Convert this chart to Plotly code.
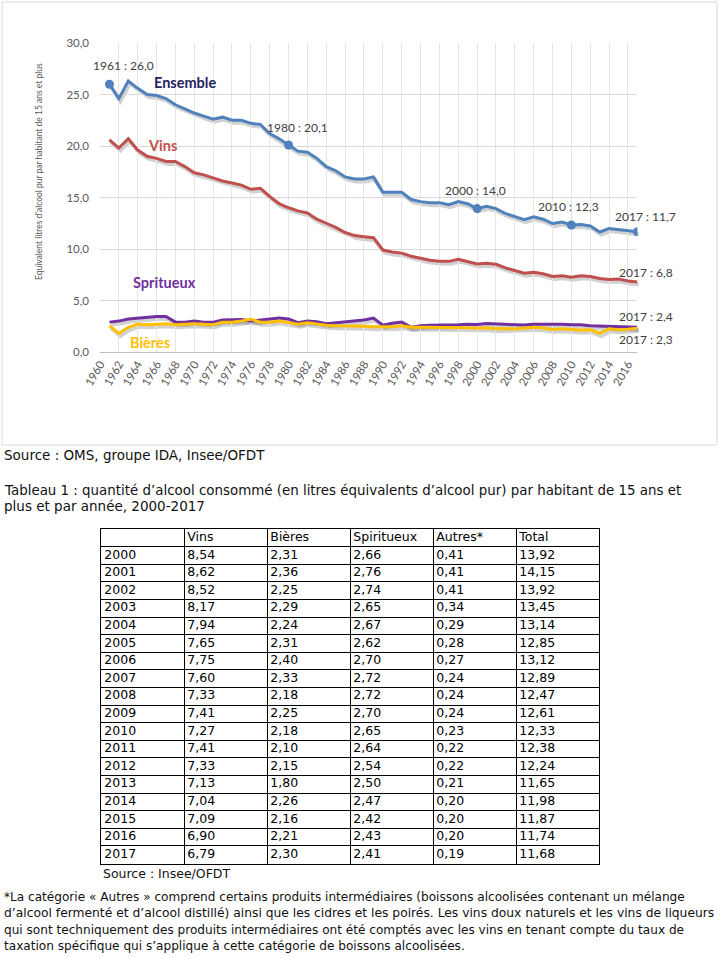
import plotly.graph_objects as go

W, H = 720, 958

# ---------------- data ----------------
years = list(range(1961, 2018))
table_years = list(range(2000, 2018))

# Tableau 1 (2000-2017)
tab_vins = [8.54, 8.62, 8.52, 8.17, 7.94, 7.65, 7.75, 7.60, 7.33, 7.41, 7.27, 7.41, 7.33, 7.13, 7.04, 7.09, 6.90, 6.79]
tab_bieres = [2.31, 2.36, 2.25, 2.29, 2.24, 2.31, 2.40, 2.33, 2.18, 2.25, 2.18, 2.10, 2.15, 1.80, 2.26, 2.16, 2.21, 2.30]
tab_spiritueux = [2.66, 2.76, 2.74, 2.65, 2.67, 2.62, 2.70, 2.72, 2.72, 2.70, 2.65, 2.64, 2.54, 2.50, 2.47, 2.42, 2.43, 2.41]
tab_autres = [0.41, 0.41, 0.41, 0.34, 0.29, 0.28, 0.27, 0.24, 0.24, 0.24, 0.23, 0.22, 0.22, 0.21, 0.20, 0.20, 0.20, 0.19]
tab_total = [13.92, 14.15, 13.92, 13.45, 13.14, 12.85, 13.12, 12.89, 12.47, 12.61, 12.33, 12.38, 12.24, 11.65, 11.98, 11.87, 11.74, 11.68]
tab_header = ["", "Vins", "Bières", "Spiritueux", "Autres*", "Total"]

# Chart series 1961-1999
ens_1961_1999 = [26.0, 24.6, 26.3, 25.6, 25.0, 24.9, 24.6, 24.0, 23.6, 23.2,
                 22.9, 22.6, 22.8, 22.5, 22.5, 22.2, 22.1, 21.2, 20.7, 20.1,
                 19.5, 19.4, 18.8, 18.0, 17.6, 17.0, 16.8, 16.8, 17.0, 15.5,
                 15.5, 15.5, 14.8, 14.6, 14.5, 14.5, 14.3, 14.6, 14.4]
vins_1961_1999 = [20.6, 19.8, 20.7, 19.6, 19.0, 18.8, 18.5, 18.5, 18.0, 17.4,
                  17.2, 16.9, 16.6, 16.4, 16.2, 15.8, 15.9, 15.1, 14.4, 14.0,
                  13.7, 13.5, 12.9, 12.5, 12.1, 11.6, 11.3, 11.2, 11.1, 9.9,
                  9.7, 9.6, 9.3, 9.1, 8.9, 8.8, 8.8, 9.0, 8.8]
spi_1961_1999 = [2.9, 3.0, 3.2, 3.3, 3.4, 3.45, 3.45, 2.9, 2.9, 3.0,
                 2.9, 2.9, 3.1, 3.1, 3.15, 3.0, 3.1, 3.2, 3.3, 3.2,
                 2.85, 3.0, 2.95, 2.75, 2.85, 2.9, 3.0, 3.1, 3.3, 2.6,
                 2.8, 2.9, 2.4, 2.55, 2.6, 2.6, 2.6, 2.65, 2.7]
bie_1961_1999 = [2.55, 1.8, 2.4, 2.7, 2.65, 2.7, 2.75, 2.65, 2.7, 2.75,
                 2.7, 2.65, 2.9, 2.9, 3.0, 3.2, 2.9, 2.9, 3.0, 2.85,
                 2.7, 2.85, 2.7, 2.6, 2.55, 2.55, 2.5, 2.5, 2.45, 2.45,
                 2.45, 2.55, 2.4, 2.4, 2.4, 2.4, 2.4, 2.4, 2.35]

ensemble = ens_1961_1999 + tab_total
vins = vins_1961_1999 + tab_vins
spiritueux = spi_1961_1999 + tab_spiritueux
bieres = bie_1961_1999 + tab_bieres

marked_years = [1961, 1980, 2000, 2010, 2017]
marked_labels = ["1961 : 26,0", "1980 : 20,1", "2000 : 14,0", "2010 : 12,3", "2017 : 11,7"]
end_labels = ["2017 : 6,8", "2017 : 2,4", "2017 : 2,3"]
x_ticks = list(range(1960, 2017, 2))

# ---------------- styles ----------------
C_ENS, C_VIN, C_SPI, C_BIE = "#4F81BD", "#C0504D", "#7030A0", "#FFC000"
CHART_FONT = "Lato"
BODY_FONT = "DejaVu Sans"


def px(xp):
    return xp / W


def py(yp):
    return 1 - yp / H


# plot area in pixels
PL, PR, PT, PB = 100, 637.4, 43, 352
SDX, SDY = 1.5, 2.5  # shadow offset

fig = go.Figure()

series = [(ensemble, C_ENS), (vins, C_VIN), (spiritueux, C_SPI), (bieres, C_BIE)]
# soft shadows (xy axes, drawn first, slightly offset subplot)
for vals, col in series:
    fig.add_trace(go.Scatter(x=years, y=vals, mode="lines", xaxis="x", yaxis="y",
                             line=dict(color="rgba(0,0,0,0.18)", width=4),
                             hoverinfo="skip", showlegend=False))
# main lines (x2y2 axes)
for vals, col in series:
    fig.add_trace(go.Scatter(x=years, y=vals, mode="lines", xaxis="x2", yaxis="y2",
                             line=dict(color=col, width=3), showlegend=False))
ens_lookup = dict(zip(years, ensemble))
fig.add_trace(go.Scatter(x=marked_years, y=[ens_lookup[y] for y in marked_years],
                         mode="markers", xaxis="x2", yaxis="y2",
                         marker=dict(color=C_ENS, size=9), showlegend=False))


# ---------------- table (text on a grid subplot) ----------------
def fmt(v):
    return f"{v:.2f}".replace(".", ",")


columns = [[str(y) for y in table_years],
           [fmt(v) for v in tab_vins], [fmt(v) for v in tab_bieres],
           [fmt(v) for v in tab_spiritueux], [fmt(v) for v in tab_autres],
           [fmt(v) for v in tab_total]]
cell_x, cell_y, cell_t = [], [], []
for ci, (head, col) in enumerate(zip(tab_header, columns)):
    for ri, txt in enumerate([head] + col):
        cell_x.append(ci + 0.04)
        cell_y.append(ri + 0.5)
        cell_t.append(txt)
n_rows = len(table_years) + 1
n_cols = len(tab_header)
fig.add_trace(go.Scatter(x=cell_x, y=cell_y, text=cell_t, mode="text",
                         textposition="middle right", xaxis="x3", yaxis="y3",
                         textfont=dict(family=BODY_FONT, size=12.5, color="black"),
                         hoverinfo="skip", showlegend=False, cliponaxis=False))

annotations = []
# callouts on Ensemble
shifts = {1961: (14, 19), 1980: (9, 17), 2000: (-2, 18), 2010: (-3, 18), 2017: (8.5, 15)}
for yr, lab in zip(marked_years, marked_labels):
    dx, dy = shifts[yr]
    annotations.append(dict(x=yr, y=ens_lookup[yr], xref="x2", yref="y2", text=lab,
                            showarrow=False, xshift=dx, yshift=dy,
                            xanchor="center", yanchor="middle",
                            font=dict(family=CHART_FONT, size=12, color="#404040")))
end_vals = [vins[-1], spiritueux[-1], bieres[-1]]
end_shifts = [10, 10.5, -10.7]
for lab, v, dy in zip(end_labels, end_vals, end_shifts):
    annotations.append(dict(x=years[-1], y=v, xref="x2", yref="y2", text=lab,
                            showarrow=False, xshift=9, yshift=dy,
                            xanchor="center", yanchor="middle",
                            font=dict(family=CHART_FONT, size=12, color="#404040")))
# series names
for txt, col, cx, cy in [("Ensemble", "#262262", 185.5, 83), ("Vins", C_VIN, 162.5, 145),
                         ("Spritueux", C_SPI, 164, 282), ("Bières", C_BIE, 149.5, 342)]:
    annotations.append(dict(x=px(cx), y=py(cy), xref="paper", yref="paper",
                            xanchor="center", yanchor="middle",
                            text=f"<b>{txt}</b>", showarrow=False,
                            font=dict(family=CHART_FONT, size=14.5, color=col)))
# y axis title
annotations.append(dict(x=px(39), y=py(172), xref="paper", yref="paper", textangle=-90,
                        xanchor="center", yanchor="middle",
                        text="Equivalent litres d'alcool pur par habitant de 15 ans et plus",
                        showarrow=False, font=dict(family=CHART_FONT, size=8.5, color="#595959")))

# body text
body_lines = [
    (2, 455, "Source : OMS, groupe IDA, Insee/OFDT", 13.5),
    (2, 490, "Tableau 1 : quantité d’alcool consommé (en litres équivalents d’alcool pur) par habitant de 15 ans et", 13.4),
    (2, 506, "plus et par année, 2000-2017", 13.5),
    (101, 873, "Source : Insee/OFDT", 12.5),
    (2, 897, "*La catégorie « Autres » comprend certains produits intermédiaires (boissons alcoolisées contenant un mélange", 12.1),
    (2, 913, "d’alcool fermenté et d’alcool distillé) ainsi que les cidres et les poirés. Les vins doux naturels et les vins de liqueurs", 12.3),
    (2, 930, "qui sont techniquement des produits intermédiaires ont été comptés avec les vins en tenant compte du taux de", 12.1),
    (2, 946, "taxation spécifique qui s’applique à cette catégorie de boissons alcoolisées.", 12.1),
]
for xl, yc, txt, fs in body_lines:
    annotations.append(dict(x=px(xl), y=py(yc), xref="paper", yref="paper", text=txt,
                            xanchor="left", yanchor="middle", showarrow=False,
                            font=dict(family=BODY_FONT, size=fs, color="#111111")))

grid_axis = dict(showgrid=True, gridcolor="black", gridwidth=1, showticklabels=False,
                 ticks="", zeroline=False, showline=True, mirror=True, linecolor="black",
                 linewidth=1, automargin=False, fixedrange=True)

fig.update_layout(
    width=W, height=H,
    margin=dict(l=0, r=0, t=0, b=0, autoexpand=False),
    paper_bgcolor="white", plot_bgcolor="rgba(0,0,0,0)",
    separators=", ",
    showlegend=False,
    annotations=annotations,
    shapes=[dict(type="rect", xref="paper", yref="paper", x0=px(2), x1=px(717),
                 y0=py(445), y1=py(2), line=dict(color="#D9D9D9", width=1), layer="below")],
    # shadow axes
    xaxis=dict(domain=[px(PL + SDX), px(PR + SDX)], range=[1960, 2017], visible=False,
               anchor="y", fixedrange=True, automargin=False),
    yaxis=dict(domain=[py(PB + SDY), py(PT + SDY)], range=[0, 30], visible=False,
               anchor="x", fixedrange=True, automargin=False),
    # main axes
    xaxis2=dict(domain=[px(PL), px(PR)], range=[1960, 2017], anchor="y2",
                tickmode="array", tickvals=x_ticks, ticktext=[str(t) for t in x_ticks],
                tickangle=-60, tickfont=dict(family=CHART_FONT, size=11.5, color="#595959"),
                showgrid=True, gridcolor="#E6E6E6", gridwidth=1,
                showline=True, linecolor="#BFBFBF", linewidth=1,
                zeroline=False, ticks="", fixedrange=True, automargin=False),
    yaxis2=dict(domain=[py(PB), py(PT)], range=[0, 30], anchor="x2",
                tickmode="linear", tick0=0, dtick=5, tickformat=".1f",
                tickfont=dict(family=CHART_FONT, size=11.5, color="#595959"),
                showgrid=True, gridcolor="#D9D9D9", gridwidth=1,
                zeroline=False, showline=False, ticks="", ticklabelstandoff=10,
                fixedrange=True, automargin=False),
    # table grid axes
    xaxis3=dict(domain=[px(101), px(599)], range=[0, n_cols], anchor="y3",
                tickmode="array", tickvals=list(range(n_cols + 1)), **grid_axis),
    yaxis3=dict(domain=[py(863.5), py(529)], range=[n_rows, 0], anchor="x3",
                tickmode="array", tickvals=list(range(n_rows + 1)), **grid_axis),
)

fig.write_html("out.html", config={"displayModeBar": False},
               post_script="document.body.style.margin='0px';document.body.style.overflow='hidden';")
